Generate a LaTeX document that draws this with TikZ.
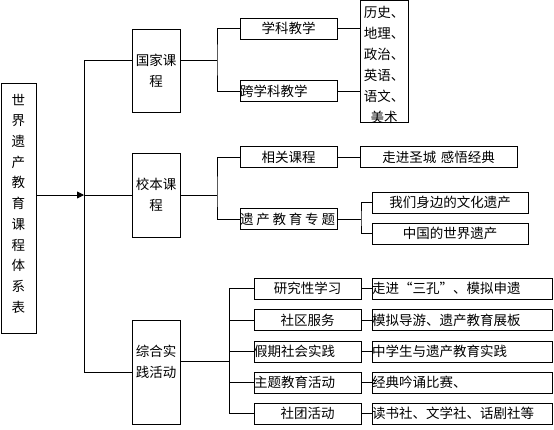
\documentclass[tikz,border=0pt]{standalone}
\usepackage{fontspec}
\usepackage{tikz}
\usetikzlibrary{arrows.meta}
\setmainfont{Noto Sans CJK SC}

\begin{document}
\begin{tikzpicture}[x=1pt, y=-1pt, line width=0.8pt,
    every node/.style={inner sep=0pt, font=\fontsize{13.5}{21}\selectfont},
    box/.style={draw, line width=0.8pt, minimum height=21pt, align=center}]

    \useasboundingbox (0,0) rectangle (554,429);

    % Root
    \node[box, minimum width=35pt, minimum height=250pt,
      label={[name=roottext, yshift=4.5pt, align=center, font=\fontsize{13.5}{20.7}\selectfont]center:世\\界\\遗\\产\\教\\育\\课\\程\\体\\系\\表}]
      (root) at (18.5,208) {};

    % Trunk
    \coordinate (tktop) at (84,60);
    \coordinate (tkmid) at (84,195);
    \coordinate (tkbot) at (84,372);
    \draw[-{Triangle[length=7pt,width=7pt]}] (root.east |- tkmid) -- (tkmid);
    \draw (tktop) -- (tkbot);

    % Level 1
    \node[box, minimum width=48pt, minimum height=83pt] (gj) at (156,70.5) {国家课\\程};
    \node[box, minimum width=48pt, minimum height=84pt] (xb) at (156,195) {校本课\\程};
    \node[box, minimum width=48pt, minimum height=104pt,
      label={[name=zhtext, yshift=10pt, align=center]center:综合实\\践活动}]
      (zh) at (156,372) {};
    \draw (tktop) -- (tktop -| gj.west);
    \draw (tkmid) -- (xb.west);
    \draw (tkbot) -- (zh.west);

    % National curriculum
    \coordinate (gjbus) at (217,60);
    \node[box, text width=97pt] (xk) at (288.5,28.5) {学科教学};
    \node[box, text width=97pt, align=left] (kxk) at (288.5,91) {跨学科教学};
    \node[box, minimum width=48pt, minimum height=122pt,
      label={[name=subtext, yshift=-4pt, align=center]center:历史、\\地理、\\政治、\\英语、\\语文、\\美术}]
      (sub) at (384,61) {};
    \draw (gj.east |- gjbus) -- (gjbus);
    \draw (xk.west) -| (gjbus) |- (kxk.west);
    \draw (xk.east) -- (xk.east -| sub.west);
    \draw (kxk.east) -- (kxk.east -| sub.west);

    % School curriculum
    \coordinate (xbbus) at (217,195);
    \node[box, text width=97pt] (xg) at (288.5,157) {相关课程};
    \node[box, text width=97pt, align=left] (zt) at (288.5,219)
      {遗\hspace{2.8pt}产\hspace{2.8pt}教\hspace{2.8pt}育\hspace{2.8pt}专\hspace{2.8pt}题};
    \node[box, text width=157pt] (jd) at (438.5,157) {走进圣城\ 感悟经典};
    \draw (xb.east) -- (xbbus);
    \draw (xg.west) -| (xbbus) |- (zt.west);
    \draw (xg.east) -- (jd.west);

    \coordinate (ztbus) at (361,219);
    \node[box, text width=156pt] (wm) at (450,202.5) {我们身边的文化遗产};
    \node[box, text width=156pt] (zg) at (450,233.5) {中国的世界遗产};
    \draw (zt.east) -- (ztbus);
    \draw (wm.west) -| (ztbus) |- (zg.west);

    % Practice activities
    \coordinate (zhbus) at (229,361);
    \draw (zh.east |- zhbus) -- (zhbus);
    \foreach \i/\y/\al/\txt/\det in {
        1/288.5/center/研究性学习/走进“三孔”、模拟申遗,
        2/320/center/社区服务/模拟导游、遗产教育展板,
        3/351.5/left/假期社会实践/中学生与遗产教育实践,
        4/382.5/left/主题教育活动/经典吟诵比赛、,
        5/413.5/center/社团活动/读书社、文学社、话剧社等} {
      \node[box, text width=107pt, align=\al] (hd\i) at (307.5,\y) {\txt};
      \node[box, text width=180pt, align=left] (dt\i) at (462,\y) {\det};
      \draw (zhbus |- hd\i.west) -- (hd\i.west);
      \draw (hd\i.east) -- (dt\i.west);
    }
    \draw (zhbus |- hd1.west) -- (zhbus |- hd5.west);

\end{tikzpicture}
\end{document}
